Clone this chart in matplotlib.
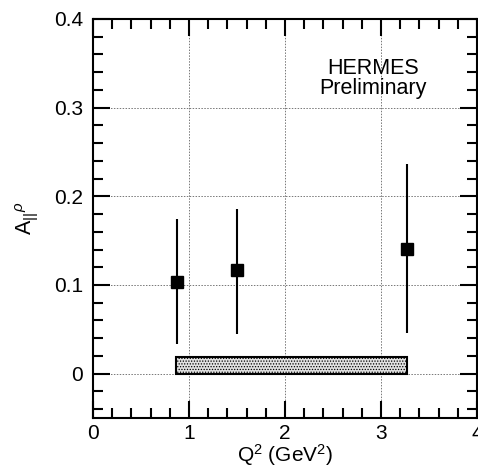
import matplotlib
matplotlib.use("Agg")
import matplotlib.pyplot as plt
from matplotlib.patches import Rectangle
from matplotlib.ticker import MultipleLocator

plt.rcParams["font.family"] = ["Liberation Sans", "DejaVu Sans"]
plt.rcParams["mathtext.fontset"] = "custom"
plt.rcParams["mathtext.rm"] = "Liberation Sans"
plt.rcParams["mathtext.it"] = "Liberation Sans:italic"
plt.rcParams["hatch.color"] = "#8c8c8c"
plt.rcParams["hatch.linewidth"] = 0.6

# measured points: Q^2 (GeV^2), asymmetry, stat. error (lower / upper)
q2 = [0.875, 1.50, 3.27]
asym = [0.103, 0.117, 0.141]
err_lo = [0.070, 0.072, 0.095]
err_hi = [0.071, 0.069, 0.095]

# systematic band
sys_q2 = [0.86, 3.275]
sys_height = 0.0185

fig = plt.figure(figsize=(4.78, 4.74), dpi=100)
ax = fig.add_axes([93 / 478, 56 / 474, 384 / 478, 399 / 474])

ax.errorbar(q2, asym, yerr=[err_lo, err_hi], fmt="s", color="black",
            ms=8, elinewidth=1.5, capsize=0, zorder=4)

ax.add_patch(Rectangle((sys_q2[0], 0), sys_q2[1] - sys_q2[0], sys_height,
                       facecolor="#e2e2e2", edgecolor="black", lw=1.5,
                       hatch="......", zorder=3))

ax.set_xlim(0, 4)
ax.set_ylim(-0.05, 0.4)
ax.xaxis.set_minor_locator(MultipleLocator(0.2))
ax.yaxis.set_minor_locator(MultipleLocator(0.02))
ax.set_xticks([0, 1, 2, 3, 4], ["0", "1", "2", "3", "4"])
ax.set_yticks([0, 0.1, 0.2, 0.3, 0.4], ["0", "0.1", "0.2", "0.3", "0.4"])
ax.tick_params(which="both", direction="in", top=True, right=True,
               width=1.5, labelsize=15, pad=7)
ax.tick_params(axis="x", which="major", pad=4)
ax.tick_params(which="major", length=12)
ax.tick_params(which="minor", length=7)
for s in ax.spines.values():
    s.set_linewidth(1.5)

ax.grid(True, which="major", color="#777777", ls=(0, (1.5, 1.5)), lw=0.7)
ax.set_axisbelow(True)

ax.text(2.92, 0.333, "HERMES\nPreliminary", ha="center", va="center",
        fontsize=15.5, linespacing=0.95)

ax.set_xlabel(r"Q$^2$ (GeV$^2$)", fontsize=15, labelpad=0)
ax.set_ylabel(r"A$_{||}$$^{\rho}$", fontsize=15.5, labelpad=10)

fig.savefig("out.png", dpi=100)
